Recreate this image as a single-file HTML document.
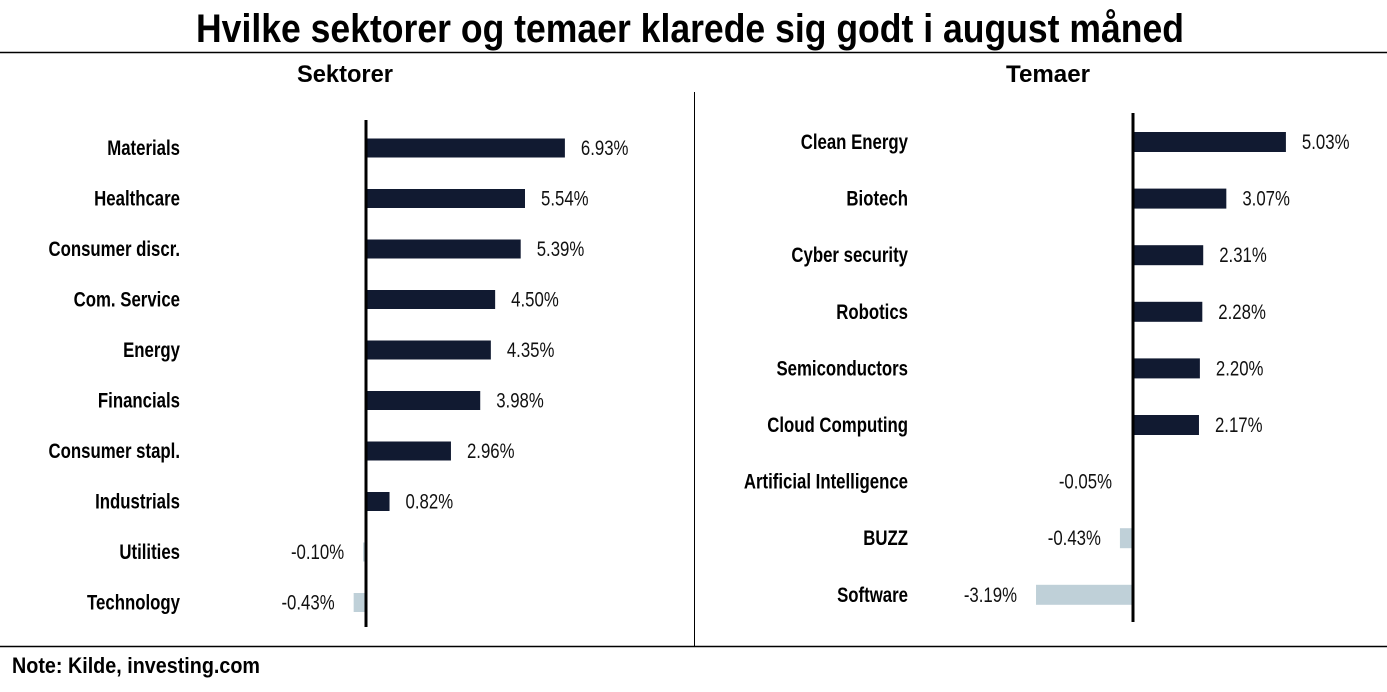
<!DOCTYPE html>
<html><head><meta charset="utf-8"><style>
html,body{margin:0;padding:0;background:#fff;}
svg{display:block;font-family:"Liberation Sans",sans-serif;}
</style></head><body>
<svg id="c" width="1387" height="692" viewBox="0 0 1387 692">
<text x="690" y="42" text-anchor="middle" font-size="40" font-weight="bold" textLength="988" lengthAdjust="spacingAndGlyphs">Hvilke sektorer og temaer klarede sig godt i august måned</text>
<line x1="0" y1="52.5" x2="1387" y2="52.5" stroke="#000" stroke-width="1.5"/>
<line x1="0" y1="646.5" x2="1387" y2="646.5" stroke="#000" stroke-width="1.5"/>
<line x1="694.5" y1="92" x2="694.5" y2="646" stroke="#000" stroke-width="1"/>
<text x="345" y="82" text-anchor="middle" font-size="24" font-weight="bold" textLength="96" lengthAdjust="spacingAndGlyphs">Sektorer</text>
<text x="1048" y="82" text-anchor="middle" font-size="24" font-weight="bold" textLength="84" lengthAdjust="spacingAndGlyphs">Temaer</text>
<text x="12" y="673" font-size="22" font-weight="bold" textLength="248" lengthAdjust="spacingAndGlyphs">Note: Kilde, investing.com</text>
<g id="left"></g><g id="right"></g>
</svg>
<script>
const sectorCats = ["Materials","Healthcare","Consumer discr.","Com. Service","Energy","Financials","Consumer stapl.","Industrials","Utilities","Technology"];
const sectorVals = [6.93,5.54,5.39,4.50,4.35,3.98,2.96,0.82,-0.10,-0.43];
const themeCats = ["Clean Energy","Biotech","Cyber security","Robotics","Semiconductors","Cloud Computing","Artificial Intelligence","BUZZ","Software"];
const themeVals = [5.03,3.07,2.31,2.28,2.20,2.17,-0.05,-0.43,-3.19];

const NS="http://www.w3.org/2000/svg";
function mk(tag,attrs,parent){const e=document.createElementNS(NS,tag);for(const k in attrs)e.setAttribute(k,attrs[k]);parent.appendChild(e);return e;}

function panel(g,cats,vals,cfg){
  const x=v=>cfg.x0+v*cfg.scale;
  const y=i=>cfg.y0+i*cfg.step;
  cats.forEach((c,i)=>{
    const v=vals[i], cy=y(i);
    const r=mk('rect',{x:Math.min(x(0),x(v)),y:cy-cfg.bh/2,width:Math.abs(x(v)-x(0)),height:cfg.bh,fill:v>=0?'#111a31':'#bfd0d8'},g);
    
    
    const lab=mk('text',{transform:`translate(${cfg.labelX},${cy+7}) scale(0.8,1)`,'text-anchor':'end','font-size':21,'font-weight':'bold'},g);
    lab.textContent=c;
    
    
    const vx=v>=0?x(v)+16:Math.min(x(v),x(0)-2)-19;
    const vl=mk('text',{transform:`translate(${vx},${cy+7}) scale(0.8,1)`,'text-anchor':v>=0?'start':'end','font-size':21,fill:'#111'},g);
    vl.textContent=v.toFixed(2)+'%';
    
    
  });
  const ax=mk('line',{x1:x(0),y1:cfg.ay1,x2:x(0),y2:cfg.ay2,stroke:'#000','stroke-width':3},g);
  
  
}
panel(document.getElementById('left'),sectorCats,sectorVals,{x0:366,scale:28.7,y0:148,step:50.5,bh:19,labelX:180,ay1:120,ay2:627});
panel(document.getElementById('right'),themeCats,themeVals,{x0:1133,scale:30.4,y0:142,step:56.6,bh:20,labelX:908,ay1:113,ay2:622});
</script>
</body></html>
